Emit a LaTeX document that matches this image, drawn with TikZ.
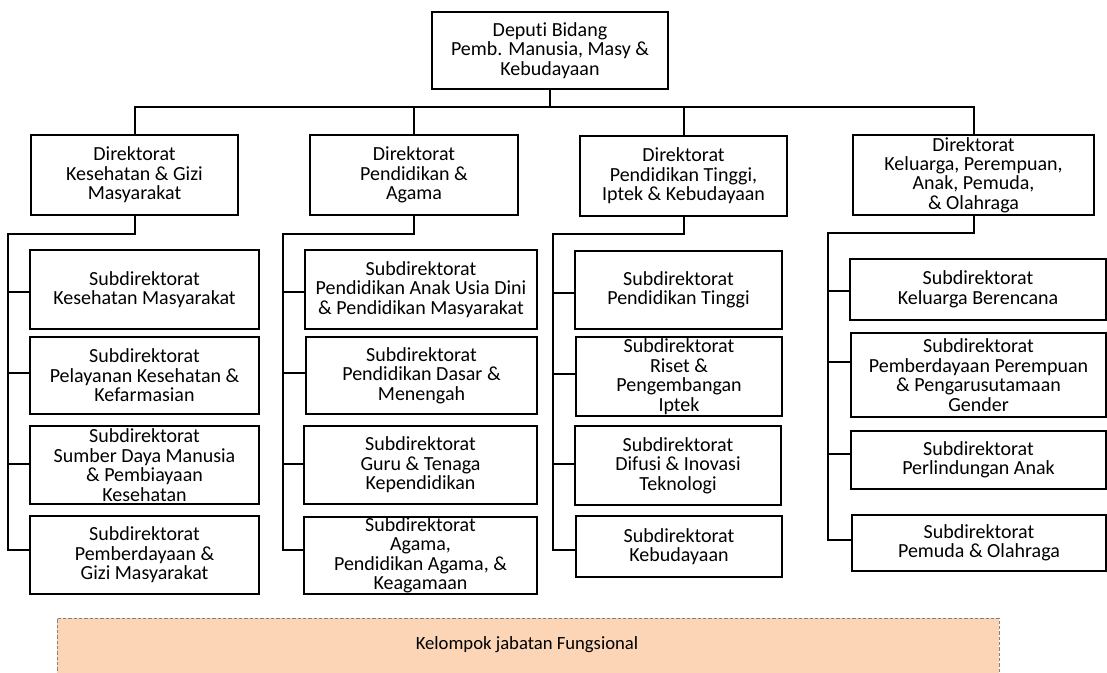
\documentclass[tikz,border=0pt]{standalone}
\usepackage{fontspec}
\setmainfont{Carlito}[Ligatures={NoCommon}]
\definecolor{peach}{RGB}{251,213,181}
\definecolor{dashgray}{RGB}{128,128,128}
% box given by name, left, top, right, bottom (pixel grid, y downwards), text
\newcommand\orgbox[6]{%
  \node[orgunit, minimum width={(#4-#2)*0.75pt}, minimum height={(#5-#3)*0.75pt}] (#1) at (#2,#3) {#6};}
\begin{document}
\begin{tikzpicture}[x=0.75pt,y=-0.75pt,
  orgunit/.style={draw=black, line width=1.5pt, inner sep=0pt, align=center,
    font=\fontsize{15}{14.6}\selectfont, anchor=north west},
  link/.style={draw=black, line width=1.5pt},
]
\useasboundingbox (0,0) rectangle (1107,673);

% functional group band along the bottom
\fill[peach] (57,618) rectangle (999,676);
\draw[dashgray, line width=0.6pt, dash pattern=on 2.5pt off 1.5pt] (57,676) -- (57,618) -- (999,618) -- (999,676);
\node[font=\fontsize{14}{16}\selectfont] (fung) at (527,645) {Kelompok jabatan Fungsional};

% head
\orgbox{dep}{431}{11}{667}{88}{Deputi Bidang\\Pemb. Manusia, Masy \&\\Kebudayaan}

% directorates
\orgbox{d1}{30}{134}{237}{214}{Direktorat\\Kesehatan \& Gizi\\Masyarakat}
\orgbox{d2}{309}{134}{517}{214}{Direktorat\\Pendidikan \&\\Agama}
\orgbox{d3}{579}{135}{786}{215}{Direktorat\\Pendidikan Tinggi,\\Iptek \& Kebudayaan}
\orgbox{d4}{852}{134}{1093}{214}{Direktorat\\Keluarga, Perempuan,\\Anak, Pemuda,\\\& Olahraga}

% subdirectorates
\orgbox{s11}{29}{249}{258}{328}{Subdirektorat\\Kesehatan Masyarakat}
\orgbox{s12}{29}{336}{258}{413}{Subdirektorat\\Pelayanan Kesehatan \&\\Kefarmasian}
\orgbox{s13}{29}{425}{258}{503}{Subdirektorat\\Sumber Daya Manusia\\\& Pembiayaan\\Kesehatan}
\orgbox{s14}{29}{515}{258}{593}{Subdirektorat\\Pemberdayaan \&\\Gizi Masyarakat}

\orgbox{s21}{304}{249}{536}{328}{Subdirektorat\\Pendidikan Anak Usia Dini\\\& Pendidikan Masyarakat}
\orgbox{s22}{305}{336}{536}{413}{Subdirektorat\\Pendidikan Dasar \&\\Menengah}
\orgbox{s23}{303}{425}{536}{503}{Subdirektorat\\Guru \& Tenaga\\Kependidikan}
\orgbox{s24}{303}{516}{536}{593}{Subdirektorat\\Agama,\\Pendidikan Agama, \&\\Keagamaan}

\orgbox{s31}{574}{250}{781}{328}{Subdirektorat\\Pendidikan Tinggi}
\orgbox{s32}{575}{336}{781}{415}{Subdirektorat\\Riset \&\\Pengembangan\\Iptek}
\orgbox{s33}{574}{425}{780}{504}{Subdirektorat\\Difusi \& Inovasi\\Teknologi}
\orgbox{s34}{575}{515}{781}{576}{Subdirektorat\\Kebudayaan}

\orgbox{s41}{849}{258}{1105}{319}{Subdirektorat\\Keluarga Berencana}
\orgbox{s42}{850}{332}{1105}{416}{Subdirektorat\\Pemberdayaan Perempuan\\\& Pengarusutamaan\\Gender}
\orgbox{s43}{850}{430}{1105}{488}{Subdirektorat\\Perlindungan Anak}
\orgbox{s44}{851}{514}{1105}{570}{Subdirektorat\\Pemuda \& Olahraga}

% head to directorates
\coordinate (bus) at (548,107);
\draw[link] (dep.south) -- (dep.south |- bus);
\draw[link] (d1.north) |- (bus) -| (d4.north);
\draw[link] (d2.north) -- (d2.north |- bus);
\draw[link] (d3.north) -- (d3.north |- bus);

% directorates to subdirectorates: elbow points and branch points
\coordinate (t1) at (8,234);
\coordinate (t2) at (283,234);
\coordinate (t3) at (553,234);
\coordinate (t4) at (828,233);

\coordinate (j11) at ([yshift=-2pt]s11.west);
\coordinate (j12) at ([yshift=2pt]s12.west);
\coordinate (j13) at ([yshift=1pt]s13.west);
\coordinate (j14) at ([yshift=4pt]s14.west);
\coordinate (j21) at ([yshift=-2pt]s21.west);
\coordinate (j22) at ([yshift=2pt]s22.west);
\coordinate (j23) at ([yshift=1pt]s23.west);
\coordinate (j24) at ([yshift=4.5pt]s24.west);
\coordinate (j31) at ([yshift=-2pt]s31.west);
\coordinate (j32) at ([yshift=2pt]s32.west);
\coordinate (j33) at ([yshift=1pt]s33.west);
\coordinate (j34) at ([yshift=-2.5pt]s34.west);
\coordinate (j41) at ([yshift=-1pt]s41.west);
\coordinate (j42) at ([yshift=10pt]s42.west);
\coordinate (j43) at ([yshift=4.5pt]s43.west);
\coordinate (j44) at ([yshift=2pt]s44.west);

\foreach \c in {1,2,3,4}{
  \draw[link] (d\c.south) |- (t\c) -- (t\c |- j\c4) -- (j\c4);
  \foreach \r in {1,2,3}{
    \draw[link] (t\c |- j\c\r) -- (j\c\r);
  }
}
\end{tikzpicture}
\end{document}
